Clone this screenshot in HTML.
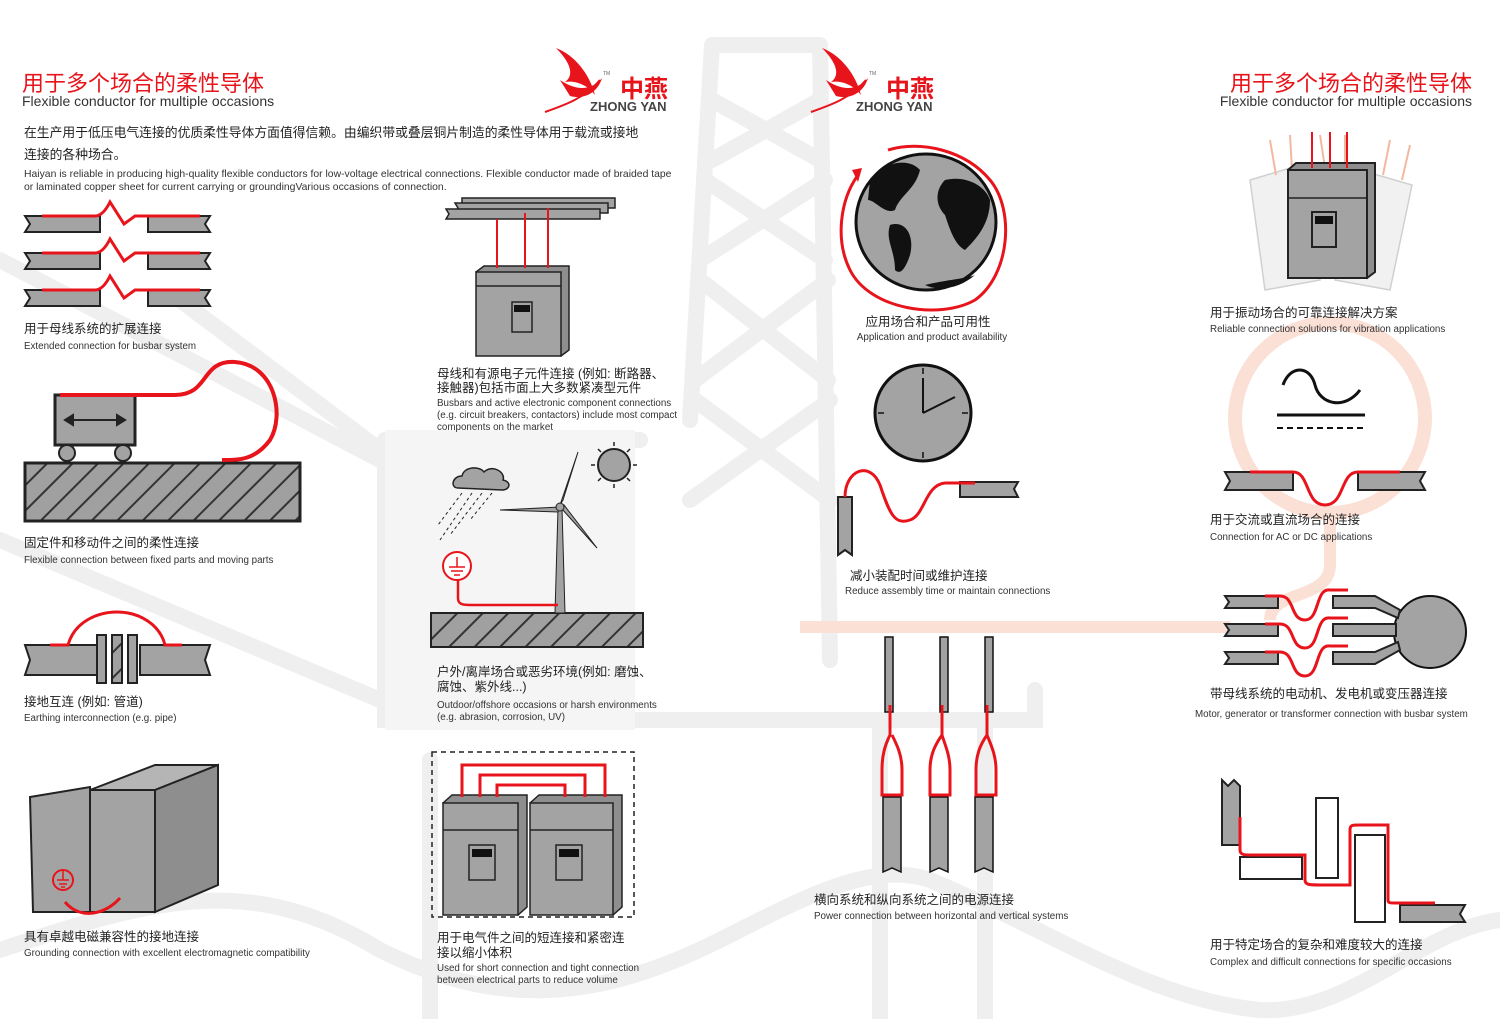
<!DOCTYPE html>
<html><head><meta charset="utf-8"><style>
html,body{margin:0;padding:0;background:#fff}
svg{display:block}
text{font-family:"Liberation Sans","Noto Sans CJK SC",sans-serif}
</style></head><body>
<svg width="1500" height="1019" viewBox="0 0 1500 1019" xmlns="http://www.w3.org/2000/svg">
<defs>
<pattern id="h" width="18" height="18" patternUnits="userSpaceOnUse" patternTransform="rotate(45)">
<rect width="18" height="18" fill="#a0a0a0"/><rect width="2" height="18" fill="#333"/></pattern>
</defs>
<!-- background tower -->
<g stroke="#efefef" stroke-width="16" fill="none" stroke-linecap="round">
<path d="M712 45 L690 420 M820 45 L830 660 M712 45 L820 45"/>
<path d="M712 100 L820 160 M820 100 L712 160 M705 180 L825 260 M825 180 L700 260 M700 280 L828 380 M828 280 L695 380 M695 400 L830 500 M830 400 L690 500"/>
<path d="M385 440 L385 720 L1035 720 L1035 690"/>
<path d="M385 440 L640 440"/>
<path d="M0 260 L380 460 M0 540 L380 700 M180 300 L380 450"/>
<path d="M0 950 C150 900 250 870 380 950 C500 1010 600 1000 720 940 C800 900 870 860 930 880 C1050 930 1150 1000 1260 1010 C1350 1015 1420 930 1500 920"/>
<path d="M880 720 L880 1019 M985 720 L985 1019 M430 760 L430 1019"/>
</g>
<rect x="385" y="430" width="250" height="300" fill="#f5f5f5"/>
<line x1="800" y1="627" x2="1230" y2="627" stroke="#fbe0d6" stroke-width="12"/>
<circle cx="1330" cy="418" r="95" fill="none" stroke="#fbe0d6" stroke-width="14"/>
<path d="M1330 518 L1330 565 C1330 600 1270 590 1270 620" stroke="#fbe0d6" stroke-width="12" fill="none"/>

<!-- headings -->
<text x="22" y="91" font-size="22" fill="#e8141b">用于多个场合的柔性导体</text>
<text x="22" y="106" font-size="14" fill="#333">Flexible conductor for multiple occasions</text>
<text x="1472" y="91" font-size="22" fill="#e8141b" text-anchor="end">用于多个场合的柔性导体</text>
<text x="1472" y="106" font-size="14" fill="#333" text-anchor="end">Flexible conductor for multiple occasions</text>

<!-- logos -->
<g id="logo">
<path d="M556 48 C575 55 590 75 595 95 C588 85 575 80 565 82 C575 75 570 62 556 48Z" fill="#e8141b"/>
<path d="M560 80 C575 90 590 92 602 78 C598 92 585 100 570 96Z" fill="#e8141b"/>
<path d="M545 112 C565 105 585 98 600 80" stroke="#e8141b" stroke-width="2" fill="none"/>
<text x="620" y="97" font-size="24" font-weight="bold" fill="#e8141b">中燕</text>
<text x="590" y="111" font-size="13" font-weight="bold" fill="#444">ZHONG YAN</text>
<text x="603" y="75" font-size="5" fill="#666">TM</text>
</g>
<use href="#logo" x="266"/>

<!-- intro -->
<text x="24" y="137" font-size="12.8" fill="#222">在生产用于低压电气连接的优质柔性导体方面值得信赖。由编织带或叠层铜片制造的柔性导体用于载流或接地</text>
<text x="24" y="159" font-size="12.8" fill="#222">连接的各种场合。</text>
<text x="24" y="177" font-size="10.4" fill="#333">Haiyan is reliable in producing high-quality flexible conductors for low-voltage electrical connections. Flexible conductor made of braided tape</text>
<text x="24" y="190" font-size="10.4" fill="#333">or laminated copper sheet for current carrying or groundingVarious occasions of connection.</text>

<!-- busbar expansion -->
<g stroke="#222" stroke-width="2" fill="#a3a3a3">
<path d="M25 216 H100 V232 H25 L30 224Z"/><path d="M148 216 H210 L205 224 L210 232 H148Z"/>
<path d="M25 253 H100 V269 H25 L30 261Z"/><path d="M148 253 H210 L205 261 L210 269 H148Z"/>
<path d="M25 290 H100 V306 H25 L30 298Z"/><path d="M148 290 H210 L205 298 L210 306 H148Z"/>
</g>
<g stroke="#e8141b" stroke-width="3" fill="none">
<path d="M42 216 H95 C100 216 105 212 110 202 L124 224 L135 216 H200"/>
<path d="M42 253 H95 C100 253 105 249 110 239 L124 261 L135 253 H200"/>
<path d="M42 290 H95 C100 290 105 286 110 276 L124 298 L135 290 H200"/>
</g>
<text x="24" y="333" font-size="12.5" fill="#222">用于母线系统的扩展连接</text>
<text x="24" y="349" font-size="9.8" fill="#333">Extended connection for busbar system</text>

<!-- cart -->
<rect x="25" y="463" width="275" height="58" fill="url(#h)" stroke="#222" stroke-width="3"/>
<rect x="55" y="395" width="80" height="50" fill="#a3a3a3" stroke="#222" stroke-width="3"/>
<circle cx="67" cy="453" r="8" fill="#a3a3a3" stroke="#222" stroke-width="2"/>
<circle cx="123" cy="453" r="8" fill="#a3a3a3" stroke="#222" stroke-width="2"/>
<path d="M65 420 H125 M65 420 l8 -5 v10z M125 420 l-8 -5 v10z" stroke="#222" stroke-width="2" fill="#222"/>
<path d="M60 395 H175 C210 395 200 360 235 362 C275 365 285 415 270 440 C255 460 240 460 222 460" stroke="#e8141b" stroke-width="4" fill="none"/>
<text x="24" y="547" font-size="12.5" fill="#222">固定件和移动件之间的柔性连接</text>
<text x="24" y="563" font-size="9.8" fill="#333">Flexible connection between fixed parts and moving parts</text>

<!-- pipe -->
<g stroke="#222" stroke-width="2" fill="#a3a3a3">
<path d="M25 645 H97 V675 H25 L30 660Z"/><path d="M140 645 H210 L205 660 L210 675 H140Z"/>
<rect x="97" y="635" width="9" height="48"/><rect x="112" y="635" width="10" height="48" fill="url(#h)"/><rect x="128" y="635" width="9" height="48"/>
</g>
<path d="M50 645 H68 C75 620 100 612 117 612 C140 612 160 625 165 645 H182" stroke="#e8141b" stroke-width="3" fill="none"/>
<text x="24" y="706" font-size="12.5" fill="#222">接地互连 (例如: 管道)</text>
<text x="24" y="721" font-size="9.8" fill="#333">Earthing interconnection (e.g. pipe)</text>

<!-- cabinet with door -->
<g stroke="#222" stroke-width="2" fill="#a3a3a3">
<path d="M90 790 L155 765 H218 L155 790Z" fill="#b5b5b5"/>
<path d="M155 790 L218 765 V885 L155 912Z" fill="#8e8e8e"/>
<rect x="90" y="790" width="65" height="122"/>
<path d="M30 797 L90 787 V912 L33 912Z"/>
</g>
<circle cx="63" cy="880" r="10" fill="none" stroke="#e8141b" stroke-width="2"/>
<path d="M57 880 H69 M59 884 H67 M61 887 H65 M63 871 V880" stroke="#e8141b" stroke-width="1.5"/>
<path d="M65 902 C80 920 105 915 120 898" stroke="#e8141b" stroke-width="3" fill="none"/>
<text x="24" y="941" font-size="12.5" fill="#222">具有卓越电磁兼容性的接地连接</text>
<text x="24" y="956" font-size="9.8" fill="#333">Grounding connection with excellent electromagnetic compatibility</text>

<!-- middle: busbars + cabinet -->
<g stroke="#222" stroke-width="1.5" fill="#a3a3a3">
<path d="M462 198 H615 V208 H462Z"/><path d="M455 203 H608 V213 H455 L458 208Z"/><path d="M446 209 H600 V219 H446 L449 214Z"/>
<path d="M476 272 L484 266 H569 V350 L561 356Z" fill="#8e8e8e"/>
<rect x="476" y="272" width="85" height="84"/>
<rect x="512" y="302" width="20" height="30"/>
</g>
<path d="M476 286 H561" stroke="#222" stroke-width="1.5"/>
<rect x="514" y="305" width="16" height="7" fill="#111"/>
<path d="M497 219 V268 M525 213 V268 M548 208 V268" stroke="#e8141b" stroke-width="2"/>
<text x="437" y="378" font-size="12.5" fill="#222">母线和有源电子元件连接 (例如: 断路器、</text>
<text x="437" y="392" font-size="12.5" fill="#222">接触器)包括市面上大多数紧凑型元件</text>
<text x="437" y="406" font-size="9.8" fill="#333">Busbars and active electronic component connections</text>
<text x="437" y="418" font-size="9.8" fill="#333">(e.g. circuit breakers, contactors) include most compact</text>
<text x="437" y="430" font-size="9.8" fill="#333">components on the market</text>

<!-- wind -->
<rect x="431" y="613" width="212" height="34" fill="url(#h)" stroke="#222" stroke-width="2"/>
<path d="M555 613 L558 508 L562 508 L565 613Z" fill="#a3a3a3" stroke="#222"/>
<path d="M560 505 L578 452 L563 500Z M560 507 L500 510 L558 512Z M562 509 L597 548 L564 505Z" fill="#a3a3a3" stroke="#222"/>
<circle cx="560" cy="507" r="4" fill="#a3a3a3" stroke="#222"/>
<circle cx="614" cy="465" r="16" fill="#a3a3a3" stroke="#222" stroke-width="2"/>
<g stroke="#222" stroke-width="1.5"><path d="M614 442 V446 M614 484 V488 M591 465 H595 M633 465 H637 M598 449 L601 452 M627 478 L630 481 M630 449 L627 452 M598 481 L601 478"/></g>
<path d="M458 488 C450 488 452 476 462 476 C464 466 480 466 484 472 C492 464 506 472 503 480 C512 482 510 490 502 490Z" fill="#a3a3a3" stroke="#222" stroke-width="1.5"/>
<g stroke="#222" stroke-width="1" stroke-dasharray="3 3"><path d="M462 493 L438 525 M472 493 L440 540 M482 493 L450 535 M492 493 L470 520"/></g>
<circle cx="457" cy="566" r="14" fill="#fff" stroke="#e8141b" stroke-width="2"/>
<path d="M449 567 H465 M451 571 H463 M454 575 H460 M457 557 V567" stroke="#e8141b" stroke-width="1.5"/>
<path d="M458 580 V598 C458 604 462 605 470 605 H558" stroke="#e8141b" stroke-width="2.5" fill="none"/>
<text x="437" y="676" font-size="12.5" fill="#222">户外/离岸场合或恶劣环境(例如: 磨蚀、</text>
<text x="437" y="691" font-size="12.5" fill="#222">腐蚀、紫外线...)</text>
<text x="437" y="708" font-size="9.8" fill="#333">Outdoor/offshore occasions or harsh environments</text>
<text x="437" y="720" font-size="9.8" fill="#333">(e.g. abrasion, corrosion, UV)</text>

<!-- two cabinets -->
<rect x="432" y="752" width="202" height="165" fill="none" stroke="#222" stroke-width="1.5" stroke-dasharray="5 4"/>
<g stroke="#222" stroke-width="1.5" fill="#a3a3a3">
<path d="M443 803 L452 795 H527 V907 L518 915Z" fill="#8e8e8e"/><rect x="443" y="803" width="75" height="112"/>
<path d="M530 803 L539 795 H622 V907 L613 915Z" fill="#8e8e8e"/><rect x="530" y="803" width="83" height="112"/>
<rect x="469" y="845" width="26" height="35"/><rect x="556" y="845" width="26" height="35"/>
</g>
<path d="M443 830 H518 M530 830 H613" stroke="#222" stroke-width="1.5"/>
<rect x="472" y="849" width="20" height="8" fill="#111"/><rect x="559" y="849" width="20" height="8" fill="#111"/>
<g stroke="#e8141b" stroke-width="3" fill="none">
<path d="M462 797 V765 H605 V797"/><path d="M480 797 V775 H585 V797"/><path d="M497 797 V785 H565 V797"/>
</g>
<text x="437" y="942" font-size="12.5" fill="#222">用于电气件之间的短连接和紧密连</text>
<text x="437" y="957" font-size="12.5" fill="#222">接以缩小体积</text>
<text x="437" y="971" font-size="9.8" fill="#333">Used for short connection and tight connection</text>
<text x="437" y="983" font-size="9.8" fill="#333">between electrical parts to reduce volume</text>

<!-- globe -->
<path d="M858 175 C840 200 835 240 850 270 C870 310 940 320 975 300 C1010 275 1015 210 990 180 C965 150 920 140 888 150" stroke="#e8141b" stroke-width="3" fill="none"/>
<path d="M852 170 L862 168 L858 182Z" fill="#e8141b"/>
<ellipse cx="926" cy="222" rx="70" ry="68" fill="#a3a3a3" stroke="#111" stroke-width="3"/>
<path d="M870 180 C885 160 910 158 920 170 C915 190 900 195 895 210 C885 215 875 200 868 200Z" fill="#111"/>
<path d="M890 225 C905 220 915 235 910 255 C905 270 900 275 895 270 C895 250 885 240 890 225Z" fill="#111"/>
<path d="M945 180 C965 175 985 185 990 200 C990 225 975 240 965 250 C955 245 950 230 945 215 C935 205 935 190 945 180Z" fill="#111"/>
<path d="M925 285 C945 280 970 278 975 275 C960 288 940 292 925 285Z" fill="#111"/>
<text x="928" y="326" font-size="12.5" fill="#222" text-anchor="middle">应用场合和产品可用性</text>
<text x="932" y="340" font-size="9.8" fill="#333" text-anchor="middle">Application and product availability</text>

<!-- clock -->
<circle cx="923" cy="413" r="48" fill="#a3a3a3" stroke="#111" stroke-width="3"/>
<g stroke="#111" stroke-width="1.5"><path d="M923 368 V374 M923 452 V458 M878 413 H884 M962 413 H968"/></g>
<path d="M923 413 V378 M923 413 L955 397" stroke="#111" stroke-width="2"/>
<g stroke="#222" stroke-width="2" fill="#a3a3a3">
<path d="M838 497 H852 V555 L845 550 L838 555Z"/>
<path d="M960 482 H1018 L1014 489 L1018 497 H960Z"/>
</g>
<path d="M845 497 C845 470 870 460 880 485 C890 515 895 525 910 520 C925 515 925 485 945 483 H975" stroke="#e8141b" stroke-width="3" fill="none"/>
<text x="850" y="580" font-size="12.5" fill="#222">减小装配时间或维护连接</text>
<text x="845" y="594" font-size="9.8" fill="#333">Reduce assembly time or maintain connections</text>

<!-- vertical bars -->
<g stroke="#111" stroke-width="1.5" fill="#a3a3a3">
<rect x="885" y="637" width="8" height="75"/><rect x="940" y="637" width="8" height="75"/><rect x="985" y="637" width="8" height="75"/>
<path d="M883 797 H901 V872 L892 868 L883 872Z"/><path d="M930 797 H948 V872 L939 868 L930 872Z"/><path d="M975 797 H993 V872 L984 868 L975 872Z"/>
</g>
<g stroke="#e8141b" stroke-width="3" fill="none">
<path d="M890 705 V735 C885 745 882 755 882 770 V795 H902 V770 C902 755 897 745 892 735"/>
<path d="M942 705 V735 C935 745 930 755 930 770 V795 H950 V770 C950 755 945 745 942 735"/>
<path d="M987 705 V735 C980 745 976 755 976 770 V795 H996 V770 C996 755 991 745 987 735"/>
</g>
<text x="814" y="904" font-size="12.5" fill="#222">横向系统和纵向系统之间的电源连接</text>
<text x="814" y="919" font-size="9.8" fill="#333">Power connection between horizontal and vertical systems</text>

<!-- vibration cabinet -->
<g stroke="#ccc" stroke-width="1.5" fill="#f0f0f0" opacity="0.9">
<path d="M1250 180 L1300 165 L1320 280 L1265 290Z"/><path d="M1360 170 L1412 185 L1390 290 L1335 280Z"/>
</g>
<g stroke="#f3b8a0" stroke-width="2"><path d="M1270 140 L1276 175 M1290 135 L1292 170 M1345 135 L1345 165 M1390 140 L1383 175 M1410 145 L1402 180 M1320 135 L1325 168"/></g>
<g stroke="#222" stroke-width="2" fill="#a3a3a3">
<path d="M1288 170 L1296 163 H1375 V272 L1367 278Z" fill="#8e8e8e"/>
<rect x="1288" y="170" width="79" height="108"/>
<rect x="1312" y="212" width="24" height="35"/>
</g>
<path d="M1288 198 H1367" stroke="#222" stroke-width="1.5"/>
<rect x="1315" y="216" width="18" height="8" fill="#111"/>
<path d="M1312 132 V168 M1330 132 V168 M1347 132 V168" stroke="#e8141b" stroke-width="2"/>
<text x="1210" y="317" font-size="12.5" fill="#222">用于振动场合的可靠连接解决方案</text>
<text x="1210" y="332" font-size="9.8" fill="#333">Reliable connection solutions for vibration applications</text>

<!-- AC/DC -->
<path d="M1283 385 C1290 365 1310 365 1315 385 C1320 405 1345 410 1360 390" stroke="#111" stroke-width="3" fill="none"/>
<path d="M1277 415 H1365" stroke="#111" stroke-width="3"/>
<path d="M1277 428 H1365" stroke="#111" stroke-width="2" stroke-dasharray="6 4"/>
<g stroke="#222" stroke-width="2" fill="#a3a3a3">
<path d="M1225 472 H1293 V490 H1225 L1230 481Z"/><path d="M1358 472 H1425 L1420 481 L1425 490 H1358Z"/>
</g>
<path d="M1250 472 H1293 C1310 472 1305 505 1325 505 C1345 505 1340 472 1358 472 H1400" stroke="#e8141b" stroke-width="3" fill="none"/>
<text x="1210" y="524" font-size="12.5" fill="#222">用于交流或直流场合的连接</text>
<text x="1210" y="540" font-size="9.8" fill="#333">Connection for AC or DC applications</text>

<!-- motor -->
<circle cx="1430" cy="632" r="36" fill="#a3a3a3" stroke="#111" stroke-width="2"/>
<g stroke="#222" stroke-width="2" fill="#a3a3a3">
<path d="M1225 596 H1278 V608 H1225 L1229 602Z"/><path d="M1225 624 H1278 V636 H1225 L1229 630Z"/><path d="M1225 652 H1278 V664 H1225 L1229 658Z"/>
<path d="M1333 596 H1375 L1400 610 L1398 618 L1375 608 H1333Z"/><path d="M1333 624 H1396 V636 H1333Z"/><path d="M1333 652 H1375 L1398 642 L1400 650 L1375 664 H1333Z"/>
</g>
<g stroke="#e8141b" stroke-width="3" fill="none">
<path d="M1265 596 H1280 C1295 596 1290 620 1305 620 C1320 620 1315 588 1330 590 H1348"/>
<path d="M1265 624 H1280 C1295 624 1290 648 1305 648 C1320 648 1315 616 1330 618 H1348"/>
<path d="M1265 652 H1280 C1295 652 1290 676 1305 676 C1320 676 1315 644 1330 646 H1348"/>
</g>
<text x="1210" y="698" font-size="12.5" fill="#222">带母线系统的电动机、发电机或变压器连接</text>
<text x="1195" y="717" font-size="9.8" fill="#333">Motor, generator or transformer connection with busbar system</text>

<!-- complex -->
<g stroke="#222" stroke-width="2">
<path d="M1222 780 L1228 786 L1234 780 L1240 786 V845 H1222Z" fill="#a3a3a3"/>
<rect x="1240" y="857" width="62" height="22" fill="#fff"/>
<rect x="1316" y="798" width="22" height="80" fill="#fff"/>
<rect x="1355" y="835" width="30" height="87" fill="#fff"/>
<path d="M1400 905 H1465 L1460 914 L1465 922 H1400Z" fill="#a3a3a3"/>
</g>
<path d="M1240 817 V850 C1240 855 1245 855 1250 855 H1305 V880 C1305 885 1310 885 1320 885 H1350 V830 C1350 825 1352 825 1360 825 H1388 V900 C1388 903 1390 903 1395 903 H1435" stroke="#e8141b" stroke-width="3" fill="none"/>
<text x="1210" y="949" font-size="12.5" fill="#222">用于特定场合的复杂和难度较大的连接</text>
<text x="1210" y="965" font-size="9.8" fill="#333">Complex and difficult connections for specific occasions</text>
</svg>
</body></html>
